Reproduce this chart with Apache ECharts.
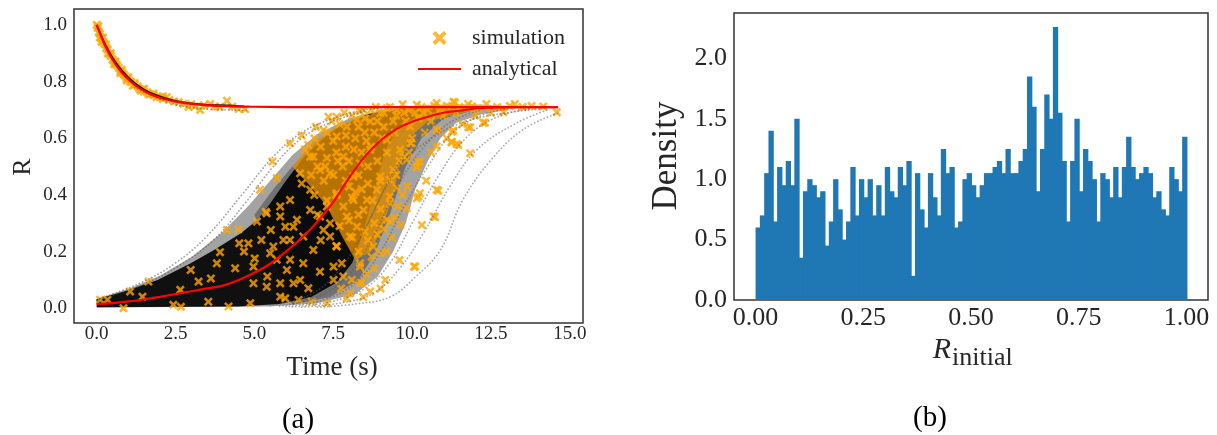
<!DOCTYPE html>
<html>
<head>
<meta charset="utf-8">
<script src="https://cdn.jsdelivr.net/npm/echarts@6/dist/echarts.min.js"></script>
<style>
  html, body { margin: 0; padding: 0; background: #fff; }
  #chart { width: 1217px; height: 435px; }
</style>
</head>
<body>
<div id="chart"></div>
<script>
// ---------- panel (a): order parameter R over time ----------
const timeTicks = [0, 2.5, 5, 7.5, 10, 12.5, 15];
const rTicks = [0, 0.2, 0.4, 0.6, 0.8, 1.0];

// analytical solution, branch starting from R = 1
const decayT = [0, 0.25, 0.5, 0.75, 1, 1.25, 1.5, 1.75, 2, 2.5, 3, 3.5, 4, 5, 6, 14.63];
const decayR = [1.0, 0.931, 0.878, 0.838, 0.808, 0.785, 0.767, 0.753, 0.743, 0.729, 0.721, 0.716, 0.713, 0.711, 0.71, 0.71];

// analytical solution, branch starting near R = 0
const growT = [0, 0.5, 1, 1.5, 2, 2.5, 3, 3.5, 4, 4.5, 5, 5.5, 6, 6.5, 7, 7.5, 8, 8.5, 9, 9.5, 10, 10.5, 11, 11.5, 12, 12.5, 13, 14.63];
const growR = [0.015, 0.018, 0.024, 0.031, 0.04, 0.05, 0.06, 0.07, 0.08, 0.1, 0.125, 0.157, 0.2, 0.248, 0.305, 0.375, 0.46, 0.535, 0.592, 0.632, 0.658, 0.676, 0.69, 0.697, 0.705, 0.708, 0.71, 0.71];

// spread of the simulated growing trajectories: faint outer envelope ...
const bulkUpper = [[0, 0.034], [1.0, 0.068], [2.0, 0.115], [3.0, 0.18], [4.0, 0.27], [4.8, 0.36], [5.5, 0.45], [6.2, 0.54], [7.0, 0.615], [8.0, 0.67], [9.0, 0.7], [10.0, 0.712], [11.5, 0.715], [13.0, 0.712]];
const bulkLower = [[13.0, 0.70], [12.2, 0.685], [11.4, 0.655], [10.9, 0.6], [10.5, 0.52], [10.1, 0.42], [9.8, 0.3], [9.4, 0.2], [8.9, 0.11], [8.2, 0.05], [7.0, 0.018], [5.5, 0.006], [0, 0.003]];
// ... a denser middle layer ...
const midUpper = [[5.0, 0.33], [5.6, 0.42], [6.2, 0.5], [7.0, 0.59], [8.0, 0.655], [9.0, 0.69], [10.5, 0.71], [12.0, 0.712]];
const midLower = [[12.0, 0.70], [11.0, 0.67], [10.3, 0.6], [9.8, 0.5], [9.5, 0.4], [9.2, 0.3], [8.8, 0.19], [8.3, 0.1], [7.4, 0.04], [6.2, 0.012]];
// ... the dense core where the runs overlap ...
const coreUpper = [[0, 0.032], [0.87, 0.059], [1.93, 0.1], [2.98, 0.159], [3.72, 0.206], [4.57, 0.265], [5.1, 0.312], [5.5, 0.37], [6.0, 0.45], [6.55, 0.53], [7.1, 0.59], [7.6, 0.635], [8.6, 0.685], [9.7, 0.705], [11.0, 0.712]];
const coreLower = [[11.0, 0.70], [10.2, 0.68], [9.6, 0.64], [9.2, 0.57], [8.95, 0.48], [8.7, 0.37], [8.4, 0.25], [8.1, 0.16], [7.6, 0.09], [6.8, 0.04], [5.8, 0.015], [4.5, 0.006], [0, 0.004]];
// ... and the part of it where the sampled points pile up
const pileUpper = [[6.2, 0.5], [6.8, 0.58], [7.4, 0.63], [8.2, 0.67], [9.2, 0.7], [10.5, 0.718], [12.0, 0.72], [13.0, 0.715]];
const pileLower = [[13.0, 0.703], [12.0, 0.70], [10.5, 0.66], [9.9, 0.6], [9.6, 0.5], [9.4, 0.4], [9.1, 0.3], [8.7, 0.2], [8.2, 0.17], [7.8, 0.25], [7.3, 0.36], [6.7, 0.44]];

// individual runs that stand apart from the bulk
const earlyRunA = [[0, 0.03], [1.4, 0.09], [2.5, 0.16], [3.5, 0.255], [4.6, 0.4], [5.6, 0.535], [6.5, 0.62], [7.5, 0.67], [8.5, 0.7], [9.5, 0.71]];
const earlyRunB = [[0, 0.03], [1.5, 0.085], [2.6, 0.15], [3.7, 0.24], [4.7, 0.37], [5.6, 0.5], [6.5, 0.6], [7.5, 0.66], [8.5, 0.695]];
const lateRunA = [[7.0, 0.004], [8.2, 0.015], [9.3, 0.04], [10.1, 0.11], [10.9, 0.206], [11.6, 0.38], [12.5, 0.523], [13.5, 0.629], [14.6, 0.688]];
const lateRunB = [[6.5, 0.004], [7.8, 0.02], [8.77, 0.053], [9.6, 0.14], [10.36, 0.265], [11.2, 0.43], [12.05, 0.559], [13.3, 0.653], [14.3, 0.7]];
const lateRunC = [[6.2, 0.005], [7.5, 0.025], [8.5, 0.07], [9.3, 0.16], [10.0, 0.3], [10.8, 0.46], [11.7, 0.6], [12.7, 0.675], [13.8, 0.705]];
const lateRunD = [[6.0, 0.006], [7.2, 0.03], [8.2, 0.09], [9.0, 0.2], [9.7, 0.35], [10.5, 0.5], [11.3, 0.62], [12.3, 0.685], [13.3, 0.708]];
const lateRunE = [[5.8, 0.008], [7.0, 0.04], [8.0, 0.12], [8.8, 0.26], [9.5, 0.42], [10.3, 0.56], [11.2, 0.655], [12.2, 0.7]];
const lateRunF = [[5.5, 0.01], [6.8, 0.05], [7.8, 0.15], [8.6, 0.3], [9.3, 0.46], [10.1, 0.59], [11.0, 0.67], [12.0, 0.705]];
const lateRunG = [[8.6, 0.3], [9.6, 0.5], [10.7, 0.606], [11.7, 0.659], [13.0, 0.69], [14.1, 0.703]];

// runs on the decaying branch
const decayRunA = [[0, 1.0], [0.3, 0.925], [0.6, 0.868], [1.0, 0.815], [1.5, 0.772], [2.0, 0.748], [2.5, 0.732], [3.0, 0.723], [3.5, 0.718], [4.2, 0.716], [4.7, 0.712]];
const decayRunB = [[1.2, 0.78], [1.8, 0.748], [2.4, 0.722], [3.0, 0.708], [3.6, 0.702], [4.2, 0.7], [4.8, 0.698]];

// sampled simulation points, decaying branch
const simDecay = [
  [0.0, 1.0], [0.03, 0.99], [0.06, 0.975], [0.1, 0.968], [0.13, 0.955], [0.17, 0.95], [0.2, 0.94], [0.25, 0.932], [0.3, 0.918], [0.35, 0.912],
  [0.4, 0.897], [0.45, 0.89], [0.5, 0.878], [0.55, 0.872], [0.6, 0.862], [0.65, 0.857], [0.7, 0.848], [0.75, 0.838], [0.8, 0.833], [0.85, 0.826],
  [0.9, 0.82], [0.95, 0.812], [1.0, 0.808], [1.05, 0.8], [1.1, 0.798], [1.2, 0.789], [1.3, 0.783], [1.35, 0.775], [1.45, 0.772], [1.5, 0.765],
  [1.6, 0.762], [1.7, 0.755], [1.8, 0.752], [1.9, 0.745], [2.0, 0.745], [2.1, 0.738], [2.22, 0.745], [2.3, 0.735], [2.45, 0.73], [2.6, 0.728],
  [2.75, 0.722], [2.91, 0.71], [3.0, 0.72], [3.1, 0.712], [3.28, 0.70], [3.4, 0.716], [3.6, 0.721], [3.75, 0.712], [3.9, 0.71], [4.13, 0.732],
  [4.3, 0.712], [4.5, 0.703], [4.71, 0.702],
  [0.05, 0.995], [0.1, 0.955], [0.2, 0.955], [0.3, 0.93], [0.45, 0.9], [0.6, 0.87], [0.8, 0.842], [1.0, 0.815], [1.2, 0.795], [1.5, 0.775],
  [1.8, 0.758], [2.1, 0.748], [0.15, 0.94], [0.35, 0.9], [0.55, 0.862], [0.75, 0.83], [0.95, 0.805], [1.15, 0.785], [1.4, 0.768], [1.65, 0.755]
];

// sampled simulation points, growing branch
const simGrow = [
  [0.11, 0.03], [0.34, 0.03], [0.85, 0.0], [1.06, 0.059], [1.45, 0.041], [1.64, 0.094], [2.43, 0.012], [2.65, 0.065], [2.67, 0.005], [2.98, 0.135],
  [3.23, 0.094], [3.54, 0.023], [3.62, 0.105], [3.81, 0.159], [3.91, 0.198], [4.13, 0.276], [4.18, 0.006], [4.39, 0.141], [4.49, 0.279], [4.52, 0.229],
  [4.67, 0.2], [4.81, 0.229], [4.87, 0.018], [4.97, 0.147], [4.97, 0.088], [5.01, 0.176], [5.08, 0.306], [5.18, 0.418], [5.22, 0.241], [5.36, 0.341],
  [5.39, 0.076], [5.39, 0.335], [5.41, 0.112], [5.5, 0.194], [5.52, 0.276], [5.57, 0.518], [5.71, 0.459], [5.82, 0.359], [5.82, 0.041], [5.92, 0.241],
  [6.13, 0.582], [6.13, 0.382], [6.13, 0.171], [6.24, 0.288], [6.24, 0.088],
  [7.35, 0.676], [6.71, 0.576], [6.87, 0.535], [7.19, 0.629], [7.61, 0.606], [7.93, 0.641], [8.25, 0.665], [8.67, 0.659], [8.99, 0.688], [9.52, 0.7],
  [10.15, 0.718], [10.78, 0.724], [11.31, 0.729], [9.94, 0.641], [10.78, 0.629], [11.26, 0.623], [11.26, 0.588], [11.47, 0.576], [10.15, 0.5], [10.25, 0.518],
  [10.78, 0.418], [10.15, 0.388], [9.83, 0.353], [10.68, 0.324], [10.31, 0.294], [9.52, 0.424], [9.3, 0.394], [9.2, 0.312], [9.63, 0.294], [8.77, 0.218],
  [8.99, 0.194], [8.72, 0.182], [8.35, 0.159], [8.67, 0.059], [8.35, 0.088], [8.09, 0.1], [7.93, 0.035], [10.1, 0.147], [7.51, 0.1], [7.3, 0.018],
  [6.82, 0.024], [6.4, 0.029], [5.98, 0.035], [6.71, 0.071], [6.45, 0.1], [7.08, 0.129], [7.77, 0.159], [7.61, 0.218], [8.03, 0.253], [8.25, 0.288],
  [7.93, 0.324], [8.46, 0.347], [8.57, 0.382], [8.88, 0.418], [9.3, 0.453], [9.41, 0.488], [8.99, 0.465], [9.72, 0.535], [9.94, 0.582], [9.62, 0.559],
  [9.2, 0.594], [8.67, 0.559], [8.35, 0.512], [8.14, 0.465], [7.61, 0.406], [7.3, 0.359], [6.77, 0.418], [6.45, 0.476], [5.82, 0.324], [5.98, 0.288],
  [6.13, 0.241], [6.55, 0.253], [6.87, 0.206], [7.19, 0.276], [7.08, 0.324], [6.77, 0.347], [6.35, 0.312], [5.6, 0.218], [5.71, 0.171], [6.03, 0.135],
  [6.55, 0.159], [5.82, 0.088], [7.4, 0.253], [7.82, 0.359], [8.14, 0.382], [7.4, 0.476], [7.82, 0.535], [7.08, 0.488], [6.77, 0.535], [6.5, 0.61],
  [7.61, 0.676], [8.46, 0.7], [9.2, 0.706],
  [11.36, 0.726], [11.78, 0.721], [12.36, 0.721], [13.26, 0.721], [13.79, 0.714], [14.16, 0.712], [14.59, 0.692], [12.9, 0.692], [12.31, 0.655], [11.78, 0.639],
  [11.31, 0.627], [11.41, 0.58], [10.83, 0.63], [11.25, 0.585], [10.78, 0.571], [9.99, 0.582], [9.83, 0.524], [10.2, 0.518], [10.15, 0.498], [10.25, 0.406],
  [10.83, 0.415], [10.73, 0.322], [10.06, 0.147], [10.2, 0.394], [9.3, 0.306], [8.35, 0.147], [8.03, 0.053], [8.4, 0.09], [7.82, 0.112], [7.51, 0.147],
  [11.84, 0.547], [12.26, 0.655], [11.84, 0.639],
  [6.6, 0.56], [6.9, 0.6], [7.1, 0.57], [7.3, 0.62], [7.5, 0.59], [7.7, 0.65], [7.9, 0.61], [8.1, 0.68], [8.3, 0.64], [8.5, 0.67],
  [8.7, 0.7], [8.9, 0.66], [9.1, 0.69], [9.3, 0.71], [9.5, 0.68], [9.7, 0.72], [9.9, 0.7], [10.1, 0.69], [10.3, 0.71], [10.5, 0.7],
  [10.7, 0.715], [10.9, 0.705], [11.1, 0.715], [11.5, 0.71], [11.9, 0.712], [12.1, 0.705], [12.7, 0.71], [13.1, 0.714], [13.5, 0.71], [7.0, 0.5],
  [7.3, 0.53], [7.6, 0.55], [7.9, 0.57], [8.2, 0.6], [8.5, 0.62], [8.8, 0.62], [9.1, 0.64], [9.4, 0.66], [9.8, 0.66], [10.2, 0.67],
  [7.2, 0.45], [7.5, 0.47], [7.8, 0.5], [8.0, 0.52], [8.4, 0.55], [8.7, 0.57], [8.0, 0.43], [8.3, 0.47], [8.6, 0.5], [8.9, 0.52],
  [9.2, 0.55], [6.8, 0.47], [6.5, 0.44], [6.9, 0.4], [7.3, 0.38], [7.6, 0.4], [8.1, 0.39], [8.4, 0.42], [7.0, 0.33], [7.4, 0.3],
  [7.7, 0.29], [8.0, 0.31], [8.3, 0.33], [7.1, 0.24], [7.6, 0.22], [8.1, 0.25], [8.5, 0.27], [8.8, 0.3], [9.0, 0.35], [9.3, 0.37],
  [9.0, 0.45], [9.5, 0.47], [9.6, 0.52], [9.9, 0.55], [10.0, 0.6], [10.4, 0.62], [10.6, 0.66], [11.0, 0.68], [11.4, 0.69],
  [6.95, 0.64], [7.45, 0.66], [7.85, 0.69], [8.35, 0.695], [8.85, 0.71], [7.25, 0.5], [7.65, 0.52], [8.15, 0.56], [8.55, 0.59], [9.05, 0.6],
  [9.45, 0.62], [9.75, 0.69], [10.35, 0.69], [7.9, 0.45], [8.6, 0.44], [8.2, 0.41], [8.75, 0.38], [9.1, 0.28], [8.6, 0.24], [8.3, 0.2],
  [8.8, 0.14], [9.2, 0.2], [9.55, 0.36], [9.85, 0.43], [10.45, 0.45], [10.6, 0.55], [11.1, 0.6], [11.6, 0.65], [12.0, 0.68], [12.5, 0.69],
  [8.9, 0.26], [9.35, 0.25], [9.7, 0.4], [9.15, 0.1], [8.55, 0.12], [9.6, 0.17], [9.45, 0.32], [8.45, 0.04], [9.0, 0.07], [7.75, 0.07]
];

// ---------- panel (b): histogram of initial R ----------
const densityTicks = [0, 0.5, 1.0, 1.5, 2.0];
const rInitTicks = [0, 0.25, 0.5, 0.75, 1.0];
const binStart = 0;
const binWidth = 0.01;
const density = [
  0.60, 0.70, 1.05, 1.40, 0.65, 1.10, 0.95, 1.15, 0.95, 1.50, 0.35, 0.90, 1.00, 0.95, 0.85, 0.90, 0.45, 0.65, 1.00, 0.75, 0.50, 0.65, 1.10, 0.70, 1.00,
  0.85, 1.00, 0.70, 0.95, 0.70, 1.10, 0.90, 0.85, 1.10, 0.95, 1.15, 0.20, 1.05, 0.75, 0.60, 1.05, 0.85, 0.70, 1.25, 1.05, 1.10, 0.60, 0.65, 1.00, 1.05,
  0.95, 0.85, 0.95, 1.05, 1.05, 1.10, 1.15, 1.05, 1.25, 1.05, 1.05, 1.15, 1.25, 1.85, 1.60, 0.90, 1.25, 1.70, 1.50, 2.26, 1.55, 1.15, 0.65, 1.15, 1.50,
  0.90, 1.25, 1.15, 1.00, 0.65, 1.05, 1.00, 0.85, 1.10, 0.85, 1.10, 1.35, 1.10, 1.00, 1.05, 1.10, 1.05, 0.85, 0.90, 0.75, 0.70, 1.10, 1.00, 0.90, 1.35
];

// ---------- styling ----------
const SERIF = 'Liberation Serif';
const INK = '#262626';
const ORANGE = '#FFA500';
const CROSS = 'path://M0,2 L2,0 L5,3 L8,0 L10,2 L7,5 L10,8 L8,10 L5,7 L2,10 L0,8 L3,5 Z';

function zipXY(xs, ys) { return xs.map((x, i) => [x, ys[i]]); }

function bandSeries(upper, lower, fill) {
  const outline = upper.concat(lower);
  return {
    type: 'custom', xAxisIndex: 0, yAxisIndex: 0, silent: true,
    data: [outline[0]],
    renderItem(params, api) {
      return {
        type: 'polygon',
        shape: { points: outline.map(p => api.coord(p)) },
        style: { fill: fill }
      };
    }
  };
}

function runSeries(points, color, width, dotted) {
  return {
    type: 'line', xAxisIndex: 0, yAxisIndex: 0, data: points, smooth: 0.4,
    showSymbol: false, symbol: 'none', silent: true,
    lineStyle: dotted
      ? { color: color, width: width, type: [0.1, 3.4], cap: 'round' }
      : { color: color, width: width }
  };
}

const chart = echarts.init(document.getElementById('chart'), null, { renderer: 'canvas' });

chart.setOption({
  animation: false,
  backgroundColor: '#fff',
  grid: [
    { left: 74, top: 9, width: 509, height: 314, show: true, borderColor: '#333', borderWidth: 1.5, backgroundColor: 'transparent' },
    { left: 734, top: 13, width: 474, height: 287, show: true, borderColor: '#333', borderWidth: 1.5, backgroundColor: 'transparent' }
  ],
  xAxis: [
    {
      type: 'value', gridIndex: 0, min: -0.72, max: 15.42,
      axisLine: { show: false }, axisTick: { show: false }, splitLine: { show: false },
      axisLabel: { customValues: timeTicks, formatter: v => v.toFixed(1), margin: 2,
                   fontFamily: SERIF, fontSize: 19, color: INK }
    },
    {
      type: 'value', gridIndex: 1, min: -0.05, max: 1.05,
      axisLine: { show: false }, axisTick: { show: false }, splitLine: { show: false },
      axisLabel: { customValues: rInitTicks, formatter: v => v.toFixed(2), margin: 5,
                   fontFamily: SERIF, fontSize: 26, color: INK }
    }
  ],
  yAxis: [
    {
      type: 'value', gridIndex: 0, min: -0.052, max: 1.056,
      axisLine: { show: false }, axisTick: { show: false }, splitLine: { show: false },
      axisLabel: { customValues: rTicks, formatter: v => v.toFixed(1), margin: 7,
                   fontFamily: SERIF, fontSize: 19, color: INK }
    },
    {
      type: 'value', gridIndex: 1, min: 0, max: 2.375,
      axisLine: { show: false }, axisTick: { show: false }, splitLine: { show: false },
      axisLabel: { customValues: densityTicks, formatter: v => v.toFixed(1), margin: 7,
                   fontFamily: SERIF, fontSize: 26, color: INK }
    }
  ],
  legend: {
    orient: 'vertical', left: 412, top: 22, itemWidth: 43, itemHeight: 14, itemGap: 9,
    data: [
      { name: 'simulation' },
      { name: 'analytical', itemStyle: { color: 'rgba(0,0,0,0)', borderWidth: 0 } }
    ],
    textStyle: { fontFamily: SERIF, fontSize: 22, color: INK, padding: [0, 0, 0, 6] }
  },
  series: [
    bandSeries(bulkUpper, bulkLower, 'rgba(0,0,0,0.36)'),
    bandSeries(midUpper, midLower, 'rgba(0,0,0,0.3)'),
    bandSeries(coreUpper, coreLower, 'rgba(0,0,0,0.9)'),
    runSeries(earlyRunA, 'rgba(90,90,90,0.55)', 1.8, true),
    runSeries(earlyRunB, 'rgba(90,90,90,0.55)', 1.8, true),
    runSeries(lateRunA, 'rgba(90,90,90,0.5)', 1.8, true),
    runSeries(lateRunB, 'rgba(90,90,90,0.5)', 1.8, true),
    runSeries(lateRunC, 'rgba(90,90,90,0.5)', 1.8, true),
    runSeries(lateRunD, 'rgba(90,90,90,0.5)', 1.8, true),
    runSeries(lateRunE, 'rgba(90,90,90,0.5)', 1.8, true),
    runSeries(lateRunF, 'rgba(90,90,90,0.5)', 1.8, true),
    runSeries(lateRunG, 'rgba(90,90,90,0.5)', 1.8, true),
    runSeries(decayRunB, 'rgba(90,90,90,0.55)', 1.8, true),
    bandSeries(pileUpper, pileLower, 'rgba(232,145,0,0.78)'),
    {
      name: 'simulation', type: 'scatter', xAxisIndex: 0, yAxisIndex: 0,
      data: simDecay.concat(simGrow), symbol: CROSS, symbolSize: 9, symbolKeepAspect: true,
      itemStyle: { color: ORANGE }, silent: true
    },
    runSeries(decayRunA, 'rgba(0,0,0,0.85)', 1.6, false),
    {
      name: 'analytical', type: 'line', xAxisIndex: 0, yAxisIndex: 0,
      data: zipXY(decayT, decayR), smooth: 0.3, showSymbol: false, symbol: 'none',
      itemStyle: { color: '#ff0000' },
      lineStyle: { color: '#ff0000', width: 2.2 }, silent: true
    },
    {
      name: 'analytical', type: 'line', xAxisIndex: 0, yAxisIndex: 0,
      data: zipXY(growT, growR), smooth: 0.3, showSymbol: false, symbol: 'none',
      itemStyle: { color: '#ff0000' },
      lineStyle: { color: '#ff0000', width: 2.2 }, silent: true
    },
    {
      type: 'custom', xAxisIndex: 1, yAxisIndex: 1, silent: true,
      data: density.map((d, i) => [binStart + i * binWidth, d]),
      renderItem(params, api) {
        const left = api.value(0);
        const top = api.coord([left, api.value(1)]);
        const bottom = api.coord([left + binWidth, 0]);
        return {
          type: 'rect',
          shape: { x: top[0], y: top[1], width: bottom[0] - top[0] + 1, height: bottom[1] - top[1] },
          style: { fill: '#1f77b4' }
        };
      }
    }
  ],
  graphic: [
    { type: 'text', x: 332, y: 368, style: { text: 'Time (s)', font: `27px "${SERIF}"`, fill: INK, align: 'center', verticalAlign: 'middle' } },
    { type: 'text', x: 23, y: 167, rotation: Math.PI / 2, style: { text: 'R', font: `26px "${SERIF}"`, fill: INK, align: 'center', verticalAlign: 'middle' } },
    { type: 'text', x: 667, y: 156, rotation: Math.PI / 2, style: { text: 'Density', font: `35px "${SERIF}"`, fill: INK, align: 'center', verticalAlign: 'middle' } },
    { type: 'text', x: 951, y: 350, style: { text: 'R', font: `italic 30px "${SERIF}"`, fill: INK, align: 'right', verticalAlign: 'middle' } },
    { type: 'text', x: 952, y: 358, style: { text: 'initial', font: `26px "${SERIF}"`, fill: INK, align: 'left', verticalAlign: 'middle' } },
    { type: 'text', x: 298, y: 420, style: { text: '(a)', font: `29px "${SERIF}"`, fill: '#000', align: 'center', verticalAlign: 'middle' } },
    { type: 'text', x: 930, y: 418, style: { text: '(b)', font: `29px "${SERIF}"`, fill: '#000', align: 'center', verticalAlign: 'middle' } }
  ]
});
</script>
</body>
</html>
